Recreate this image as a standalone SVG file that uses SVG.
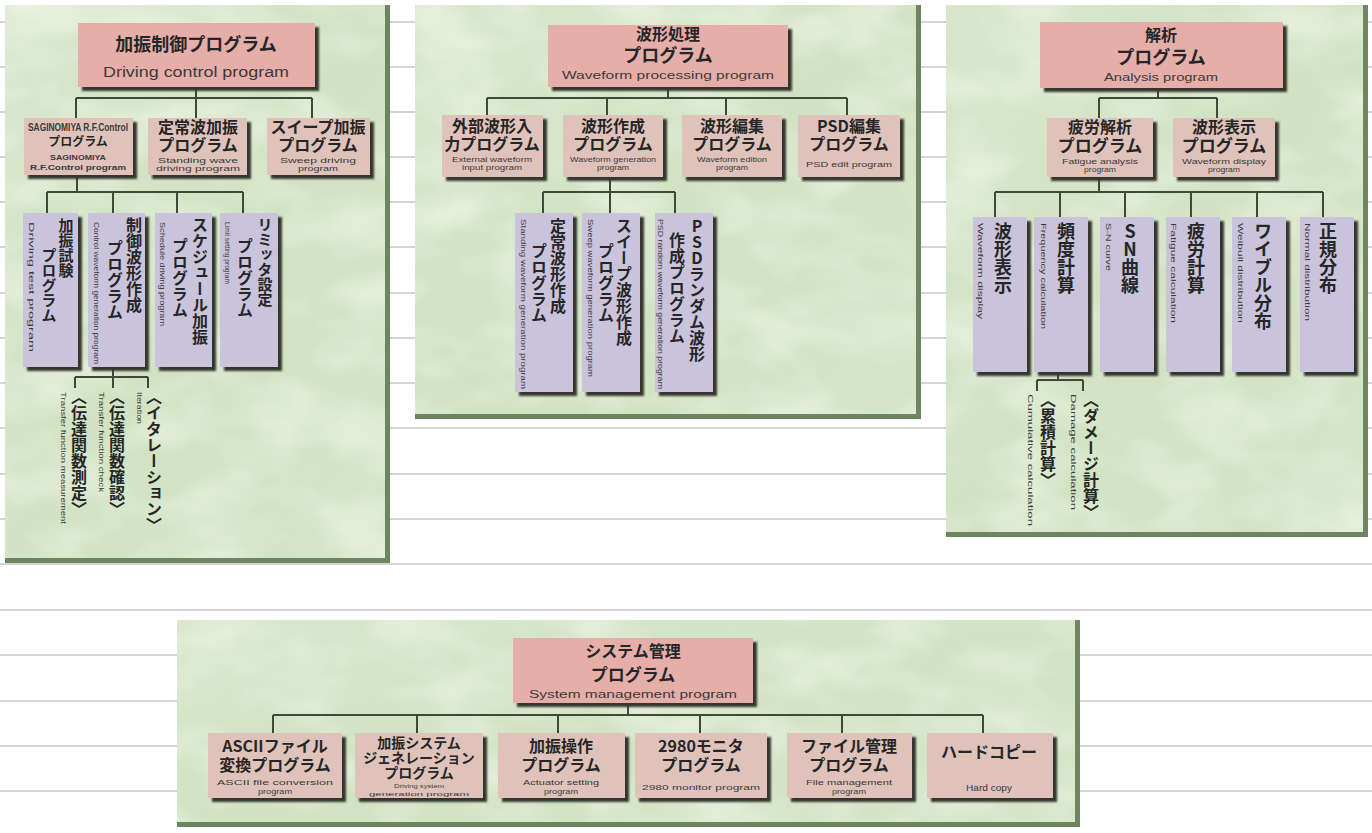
<svg xmlns="http://www.w3.org/2000/svg" width="1372" height="833" viewBox="0 0 1372 833">
<defs>
<linearGradient id="pg" x1="0" y1="0" x2="1" y2="1">
<stop offset="0" stop-color="#d8e7cc"/><stop offset="0.5" stop-color="#d1e3c3"/><stop offset="1" stop-color="#d5e5c8"/>
</linearGradient>
<filter id="tex" x="0" y="0" width="1" height="1">
<feTurbulence type="fractalNoise" baseFrequency="0.012 0.02" numOctaves="3" seed="5"/>
<feColorMatrix values="0 0 0 0 1  0 0 0 0 1  0 0 0 0 0.95  0.9 0 0 0 -0.36"/>
<feComposite in2="SourceGraphic" operator="in"/>
</filter>
<filter id="blur" x="-10%" y="-10%" width="120%" height="120%"><feGaussianBlur stdDeviation="0.8"/></filter>
</defs>
<style>
.bg{stroke:#c6c6c6;stroke-width:1.5}
.panel{fill:url(#pg)}
.tex{fill:#fff;filter:url(#tex)}
.edge{fill:#6d865f}
.sh{fill:#35352d;filter:url(#blur)}
.b1{fill:#e6aea9}
.b2{fill:#dfc3bb}
.b3{fill:#cac3dc}
.ln{stroke:#3d4a35;stroke-width:2;fill:none}
.jp{font-family:"Noto Sans CJK JP","Noto Sans CJK SC",sans-serif;font-weight:700;fill:#262626}
.en{font-family:"Liberation Sans",Arial,sans-serif;fill:#3a3a3a}
.c{text-anchor:middle}
.v{writing-mode:vertical-rl}
.up{text-orientation:upright}
</style>

<g id="background-lines">
<line class="bg" x1="0" y1="22" x2="1372" y2="22"/>
<line class="bg" x1="0" y1="67" x2="1372" y2="67"/>
<line class="bg" x1="0" y1="112" x2="1372" y2="112"/>
<line class="bg" x1="0" y1="157" x2="1372" y2="157"/>
<line class="bg" x1="0" y1="202" x2="1372" y2="202"/>
<line class="bg" x1="0" y1="247" x2="1372" y2="247"/>
<line class="bg" x1="0" y1="293" x2="1372" y2="293"/>
<line class="bg" x1="0" y1="338" x2="1372" y2="338"/>
<line class="bg" x1="0" y1="383" x2="1372" y2="383"/>
<line class="bg" x1="0" y1="428" x2="1372" y2="428"/>
<line class="bg" x1="0" y1="474" x2="1372" y2="474"/>
<line class="bg" x1="0" y1="519" x2="1372" y2="519"/>
<line class="bg" x1="0" y1="564" x2="1372" y2="564"/>
<line class="bg" x1="0" y1="610" x2="1372" y2="610"/>
<line class="bg" x1="0" y1="655" x2="1372" y2="655"/>
<line class="bg" x1="0" y1="701" x2="1372" y2="701"/>
<line class="bg" x1="0" y1="746" x2="1372" y2="746"/>
<line class="bg" x1="0" y1="791" x2="1372" y2="791"/>
</g>

<g id="panels">
<rect class="panel" x="5" y="5" width="385" height="558"/><rect class="tex" x="5" y="5" width="385" height="558"/>
<rect class="edge" x="385" y="5" width="5" height="558"/><rect class="edge" x="5" y="558" width="385" height="5"/>
<rect class="panel" x="415" y="5" width="506" height="414"/><rect class="tex" x="415" y="5" width="506" height="414"/>
<rect class="edge" x="916" y="5" width="5" height="414"/><rect class="edge" x="415" y="414" width="506" height="5"/>
<rect class="panel" x="946" y="5" width="422" height="532"/><rect class="tex" x="946" y="5" width="422" height="532"/>
<rect class="edge" x="1363" y="5" width="5" height="532"/><rect class="edge" x="946" y="532" width="422" height="5"/>
<rect class="panel" x="177" y="620" width="903" height="207"/><rect class="tex" x="177" y="620" width="903" height="207"/>
<rect class="edge" x="1075" y="620" width="5" height="207"/><rect class="edge" x="177" y="822" width="903" height="5"/>
</g>

<g id="connectors">
<path class="ln" d="M196 87V98M76 98H312M76 98V118M196 98V118M312 98V118"/>
<path class="ln" d="M77 175V192M47 192H243M47 192V213M113 192V213M177 192V213M243 192V213"/>
<path class="ln" d="M113 367V377M75 377H148M75 377V388M113 377V388M148 377V388"/>
<path class="ln" d="M668 87V98M487 98H847M487 98V115M607 98V115M726 98V115M847 98V115"/>
<path class="ln" d="M610 177V192M543 192H675M543 192V213M610 192V213M675 192V213"/>
<path class="ln" d="M1158 88V98M1099 98H1217M1099 98V118M1217 98V118"/>
<path class="ln" d="M1099 177V192M995 192H1323M995 192V217M1060 192V217M1125 192V217M1191 192V217M1257 192V217M1323 192V217"/>
<path class="ln" d="M1058 372V380M1037 380H1083M1037 380V391M1083 380V391"/>
<path class="ln" d="M628 703V715M273 715H983M273 715V733M417 715V733M558 715V733M700 715V733M842 715V733M983 715V733"/>
</g>

<!-- Panel 1 -->
<g id="p1-root">
<rect class="sh" x="82" y="27" width="237" height="64"/><rect class="b1" x="78" y="23" width="237" height="64"/>
<text class="jp c" x="196" y="51" font-size="18">加振制御プログラム</text>
<text class="en c" x="196" y="77" font-size="14" textLength="186" lengthAdjust="spacingAndGlyphs">Driving control program</text>
</g>
<g id="p1-saginomiya">
<rect class="sh" x="28" y="122" width="109" height="57"/><rect class="b2" x="24" y="118" width="109" height="57"/>
<text class="en c" x="78" y="131" font-size="10" font-weight="700" textLength="100" lengthAdjust="spacingAndGlyphs">SAGINOMIYA R.F.Control</text>
<text class="jp c" x="78" y="146" font-size="12">プログラム</text>
<text class="en c" font-size="7" font-weight="700"><tspan x="78" y="160" textLength="56" lengthAdjust="spacingAndGlyphs">SAGINOMIYA</tspan><tspan x="78" y="170" textLength="96" lengthAdjust="spacingAndGlyphs">R.F.Control program</tspan></text>
</g>
<g id="p1-standing">
<rect class="sh" x="152" y="122" width="99" height="57"/><rect class="b2" x="148" y="118" width="99" height="57"/>
<text class="jp c" font-size="16"><tspan x="198" y="133">定常波加振</tspan><tspan x="198" y="151">プログラム</tspan></text>
<text class="en c" font-size="7"><tspan x="198" y="163" textLength="80" lengthAdjust="spacingAndGlyphs">Standing wave</tspan><tspan x="198" y="171" textLength="84" lengthAdjust="spacingAndGlyphs">driving program</tspan></text>
</g>
<g id="p1-sweep">
<rect class="sh" x="271" y="122" width="103" height="57"/><rect class="b2" x="267" y="118" width="103" height="57"/>
<text class="jp c" font-size="16"><tspan x="318" y="133">スイープ加振</tspan><tspan x="318" y="151">プログラム</tspan></text>
<text class="en c" font-size="7"><tspan x="318" y="163" textLength="76" lengthAdjust="spacingAndGlyphs">Sweep driving</tspan><tspan x="318" y="171" textLength="40" lengthAdjust="spacingAndGlyphs">program</tspan></text>
</g>
<g id="p1-drivetest">
<rect class="sh" x="27" y="217" width="55" height="154"/><rect class="b3" x="23" y="213" width="55" height="154"/>
<text class="jp v" font-size="15"><tspan x="66" y="218">加振試験</tspan><tspan x="49" y="248">プログラム</tspan></text>
<text class="en" font-size="7" transform="translate(29,222) rotate(90)" textLength="130" lengthAdjust="spacingAndGlyphs">Driving test program</text>
</g>
<g id="p1-ctrlwave">
<rect class="sh" x="92" y="217" width="57" height="154"/><rect class="b3" x="88" y="213" width="57" height="154"/>
<text class="jp v" font-size="16"><tspan x="134" y="217">制御波形作成</tspan><tspan x="115" y="240">プログラム</tspan></text>
<text class="en" font-size="7" transform="translate(94,222) rotate(90)" textLength="142" lengthAdjust="spacingAndGlyphs">Control waveform generation program</text>
</g>
<g id="p1-schedule">
<rect class="sh" x="159" y="217" width="57" height="154"/><rect class="b3" x="155" y="213" width="57" height="154"/>
<text class="jp v" font-size="16"><tspan x="200" y="217">スケジュール加振</tspan><tspan x="180" y="238">プログラム</tspan></text>
<text class="en" font-size="7" transform="translate(160,222) rotate(90)" textLength="104" lengthAdjust="spacingAndGlyphs">Schedule driving program</text>
</g>
<g id="p1-limiter">
<rect class="sh" x="224" y="217" width="58" height="154"/><rect class="b3" x="220" y="213" width="58" height="154"/>
<text class="jp v" font-size="15"><tspan x="265" y="217">リミッタ設定</tspan><tspan x="245" y="238" font-size="16">プログラム</tspan></text>
<text class="en" font-size="7" transform="translate(225,222) rotate(90)" textLength="62" lengthAdjust="spacingAndGlyphs">Limit setting program</text>
</g>
<g id="p1-tfmeasure">
<text class="jp v" x="79" y="389" font-size="16">〈伝達関数測定〉</text>
<text class="en" font-size="7" transform="translate(61,392) rotate(90)" textLength="132" lengthAdjust="spacingAndGlyphs">Transfer function measurement</text>
</g>
<g id="p1-tfcheck">
<text class="jp v" x="117" y="389" font-size="16">〈伝達関数確認〉</text>
<text class="en" font-size="7" transform="translate(99,392) rotate(90)" textLength="100" lengthAdjust="spacingAndGlyphs">Transfer function check</text>
</g>
<g id="p1-iteration">
<text class="jp v" x="154" y="389" font-size="16">〈イタレーション〉</text>
<text class="en" font-size="7" transform="translate(137,392) rotate(90)" textLength="32" lengthAdjust="spacingAndGlyphs">Iteration</text>
</g>

<!-- Panel 2 -->
<g id="p2-root">
<rect class="sh" x="552" y="29" width="240" height="62"/><rect class="b1" x="548" y="25" width="240" height="62"/>
<text class="jp c"><tspan x="668" y="40" font-size="16">波形処理</tspan><tspan x="668" y="62" font-size="18">プログラム</tspan></text>
<text class="en c" x="668" y="79" font-size="11" textLength="212" lengthAdjust="spacingAndGlyphs">Waveform processing program</text>
</g>
<g id="p2-external">
<rect class="sh" x="446" y="119" width="101" height="62"/><rect class="b2" x="442" y="115" width="101" height="62"/>
<text class="jp c" font-size="16"><tspan x="492" y="132">外部波形入</tspan><tspan x="492" y="150">力プログラム</tspan></text>
<text class="en c" font-size="7"><tspan x="492" y="162" textLength="80" lengthAdjust="spacingAndGlyphs">External waveform</tspan><tspan x="492" y="170" textLength="60" lengthAdjust="spacingAndGlyphs">input program</tspan></text>
</g>
<g id="p2-generate">
<rect class="sh" x="567" y="119" width="100" height="62"/><rect class="b2" x="563" y="115" width="100" height="62"/>
<text class="jp c" font-size="16"><tspan x="613" y="132">波形作成</tspan><tspan x="613" y="150">プログラム</tspan></text>
<text class="en c" font-size="7"><tspan x="613" y="162" textLength="86" lengthAdjust="spacingAndGlyphs">Waveform generation</tspan><tspan x="613" y="170" textLength="32" lengthAdjust="spacingAndGlyphs">program</tspan></text>
</g>
<g id="p2-edit">
<rect class="sh" x="686" y="119" width="100" height="62"/><rect class="b2" x="682" y="115" width="100" height="62"/>
<text class="jp c" font-size="16"><tspan x="732" y="132">波形編集</tspan><tspan x="732" y="150">プログラム</tspan></text>
<text class="en c" font-size="7"><tspan x="732" y="162" textLength="70" lengthAdjust="spacingAndGlyphs">Waveform edition</tspan><tspan x="732" y="170" textLength="32" lengthAdjust="spacingAndGlyphs">program</tspan></text>
</g>
<g id="p2-psdedit">
<rect class="sh" x="802" y="119" width="102" height="62"/><rect class="b2" x="798" y="115" width="102" height="62"/>
<text class="jp c" font-size="16"><tspan x="849" y="132">PSD編集</tspan><tspan x="849" y="150">プログラム</tspan></text>
<text class="en c" x="849" y="167" font-size="8" textLength="86" lengthAdjust="spacingAndGlyphs">PSD edit program</text>
</g>
<g id="p2-standing">
<rect class="sh" x="519" y="217" width="58" height="179"/><rect class="b3" x="515" y="213" width="58" height="179"/>
<text class="jp v" font-size="16"><tspan x="558" y="218">定常波形作成</tspan><tspan x="539" y="243">プログラム</tspan></text>
<text class="en" font-size="7" transform="translate(521,219) rotate(90)" textLength="170" lengthAdjust="spacingAndGlyphs">Standing waveform generation program</text>
</g>
<g id="p2-sweep">
<rect class="sh" x="586" y="217" width="58" height="179"/><rect class="b3" x="582" y="213" width="58" height="179"/>
<text class="jp v" font-size="16"><tspan x="624" y="218">スイープ波形作成</tspan><tspan x="606" y="243">プログラム</tspan></text>
<text class="en" font-size="7" transform="translate(588,219) rotate(90)" textLength="158" lengthAdjust="spacingAndGlyphs">Sweep waveform generation program</text>
</g>
<g id="p2-psdrandom">
<rect class="sh" x="659" y="217" width="58" height="179"/><rect class="b3" x="655" y="213" width="58" height="179"/>
<text class="jp v" font-size="16"><tspan class="up" x="697" y="218">PSDランダム波形</tspan><tspan x="677" y="232">作成プログラム</tspan></text>
<text class="en" font-size="7" transform="translate(658,219) rotate(90)" textLength="170" lengthAdjust="spacingAndGlyphs">PSD random waveform generation program</text>
</g>

<!-- Panel 3 -->
<g id="p3-root">
<rect class="sh" x="1044" y="26" width="243" height="66"/><rect class="b1" x="1040" y="22" width="243" height="66"/>
<text class="jp c"><tspan x="1161" y="41" font-size="16">解析</tspan><tspan x="1161" y="64" font-size="18">プログラム</tspan></text>
<text class="en c" x="1161" y="81" font-size="11" textLength="114" lengthAdjust="spacingAndGlyphs">Analysis program</text>
</g>
<g id="p3-fatigue">
<rect class="sh" x="1051" y="122" width="106" height="59"/><rect class="b2" x="1047" y="118" width="106" height="59"/>
<text class="jp c"><tspan x="1100" y="133" font-size="16">疲労解析</tspan><tspan x="1100" y="152" font-size="17">プログラム</tspan></text>
<text class="en c" font-size="7"><tspan x="1100" y="164" textLength="76" lengthAdjust="spacingAndGlyphs">Fatigue analysis</tspan><tspan x="1100" y="172" textLength="32" lengthAdjust="spacingAndGlyphs">program</tspan></text>
</g>
<g id="p3-wavedisp">
<rect class="sh" x="1177" y="122" width="102" height="59"/><rect class="b2" x="1173" y="118" width="102" height="59"/>
<text class="jp c"><tspan x="1224" y="133" font-size="16">波形表示</tspan><tspan x="1224" y="152" font-size="17">プログラム</tspan></text>
<text class="en c" font-size="7"><tspan x="1224" y="164" textLength="84" lengthAdjust="spacingAndGlyphs">Waveform display</tspan><tspan x="1224" y="172" textLength="32" lengthAdjust="spacingAndGlyphs">program</tspan></text>
</g>
<g id="p3-v-wave">
<rect class="sh" x="977" y="221" width="54" height="155"/><rect class="b3" x="973" y="217" width="54" height="155"/>
<text class="jp v" x="1003" y="222" font-size="18">波形表示</text>
<text class="en" font-size="7" transform="translate(978,223) rotate(90)" textLength="96" lengthAdjust="spacingAndGlyphs">Waveform display</text>
</g>
<g id="p3-v-freq">
<rect class="sh" x="1038" y="221" width="54" height="155"/><rect class="b3" x="1034" y="217" width="54" height="155"/>
<text class="jp v" x="1066" y="222" font-size="18">頻度計算</text>
<text class="en" font-size="7" transform="translate(1041,223) rotate(90)" textLength="106" lengthAdjust="spacingAndGlyphs">Frequency calculation</text>
</g>
<g id="p3-v-sn">
<rect class="sh" x="1104" y="221" width="54" height="155"/><rect class="b3" x="1100" y="217" width="54" height="155"/>
<text class="jp v up" x="1130" y="222" font-size="18">SN曲線</text>
<text class="en" font-size="7" transform="translate(1106,223) rotate(90)" textLength="48" lengthAdjust="spacingAndGlyphs">S-N curve</text>
</g>
<g id="p3-v-fatigue">
<rect class="sh" x="1170" y="221" width="54" height="155"/><rect class="b3" x="1166" y="217" width="54" height="155"/>
<text class="jp v" x="1196" y="222" font-size="18">疲労計算</text>
<text class="en" font-size="7" transform="translate(1171,223) rotate(90)" textLength="100" lengthAdjust="spacingAndGlyphs">Fatigue calculation</text>
</g>
<g id="p3-v-weibull">
<rect class="sh" x="1236" y="221" width="54" height="155"/><rect class="b3" x="1232" y="217" width="54" height="155"/>
<text class="jp v" x="1263" y="222" font-size="18">ワイブル分布</text>
<text class="en" font-size="7" transform="translate(1238,223) rotate(90)" textLength="100" lengthAdjust="spacingAndGlyphs">Weibull distribution</text>
</g>
<g id="p3-v-normal">
<rect class="sh" x="1304" y="221" width="54" height="155"/><rect class="b3" x="1300" y="217" width="54" height="155"/>
<text class="jp v" x="1328" y="222" font-size="18">正規分布</text>
<text class="en" font-size="7" transform="translate(1305,223) rotate(90)" textLength="98" lengthAdjust="spacingAndGlyphs">Normal distribution</text>
</g>
<g id="p3-cumulative">
<text class="jp v" x="1048" y="392" font-size="16">〈累積計算〉</text>
<text class="en" font-size="7" transform="translate(1028,394) rotate(90)" textLength="132" lengthAdjust="spacingAndGlyphs">Cumulative calculation</text>
</g>
<g id="p3-damage">
<text class="jp v" x="1091" y="392" font-size="16">〈ダメージ計算〉</text>
<text class="en" font-size="7" transform="translate(1071,394) rotate(90)" textLength="116" lengthAdjust="spacingAndGlyphs">Damage calculation</text>
</g>

<!-- Panel 4 -->
<g id="p4-root">
<rect class="sh" x="517" y="642" width="240" height="65"/><rect class="b1" x="513" y="638" width="240" height="65"/>
<text class="jp c"><tspan x="633" y="657" font-size="16">システム管理</tspan><tspan x="633" y="681" font-size="17">プログラム</tspan></text>
<text class="en c" x="633" y="698" font-size="11" textLength="208" lengthAdjust="spacingAndGlyphs">System management program</text>
</g>
<g id="p4-ascii">
<rect class="sh" x="212" y="737" width="134" height="65"/><rect class="b2" x="208" y="733" width="134" height="65"/>
<text class="jp c" font-size="16"><tspan x="275" y="752">ASCIIファイル</tspan><tspan x="275" y="771">変換プログラム</tspan></text>
<text class="en c" font-size="7"><tspan x="275" y="785" textLength="116" lengthAdjust="spacingAndGlyphs">ASCII file conversion</tspan><tspan x="275" y="794" textLength="34" lengthAdjust="spacingAndGlyphs">program</tspan></text>
</g>
<g id="p4-sysgen">
<rect class="sh" x="359" y="737" width="128" height="65"/><rect class="b2" x="355" y="733" width="128" height="65"/>
<text class="jp c" font-size="14"><tspan x="419" y="748">加振システム</tspan><tspan x="419" y="763">ジェネレーション</tspan><tspan x="419" y="778">プログラム</tspan></text>
<text class="en c" font-size="6"><tspan x="419" y="788" textLength="50" lengthAdjust="spacingAndGlyphs">Driving system</tspan><tspan x="419" y="796" textLength="100" lengthAdjust="spacingAndGlyphs">generation program</tspan></text>
</g>
<g id="p4-actuator">
<rect class="sh" x="502" y="737" width="127" height="65"/><rect class="b2" x="498" y="733" width="127" height="65"/>
<text class="jp c" font-size="16"><tspan x="561" y="752">加振操作</tspan><tspan x="561" y="771">プログラム</tspan></text>
<text class="en c" font-size="7"><tspan x="561" y="785" textLength="76" lengthAdjust="spacingAndGlyphs">Actuator setting</tspan><tspan x="561" y="794" textLength="34" lengthAdjust="spacingAndGlyphs">program</tspan></text>
</g>
<g id="p4-monitor">
<rect class="sh" x="639" y="737" width="132" height="65"/><rect class="b2" x="635" y="733" width="132" height="65"/>
<text class="jp c" font-size="16"><tspan x="701" y="752">2980モニタ</tspan><tspan x="701" y="771">プログラム</tspan></text>
<text class="en c" x="701" y="790" font-size="8" textLength="118" lengthAdjust="spacingAndGlyphs">2980 monitor program</text>
</g>
<g id="p4-file">
<rect class="sh" x="791" y="737" width="125" height="65"/><rect class="b2" x="787" y="733" width="125" height="65"/>
<text class="jp c" font-size="16"><tspan x="849" y="752">ファイル管理</tspan><tspan x="849" y="771">プログラム</tspan></text>
<text class="en c" font-size="7"><tspan x="849" y="785" textLength="86" lengthAdjust="spacingAndGlyphs">File management</tspan><tspan x="849" y="794" textLength="34" lengthAdjust="spacingAndGlyphs">program</tspan></text>
</g>
<g id="p4-hardcopy">
<rect class="sh" x="931" y="737" width="126" height="65"/><rect class="b2" x="927" y="733" width="126" height="65"/>
<text class="jp c" x="989" y="758" font-size="16">ハードコピー</text>
<text class="en c" x="989" y="791" font-size="9" textLength="46" lengthAdjust="spacingAndGlyphs">Hard copy</text>
</g>
</svg>
